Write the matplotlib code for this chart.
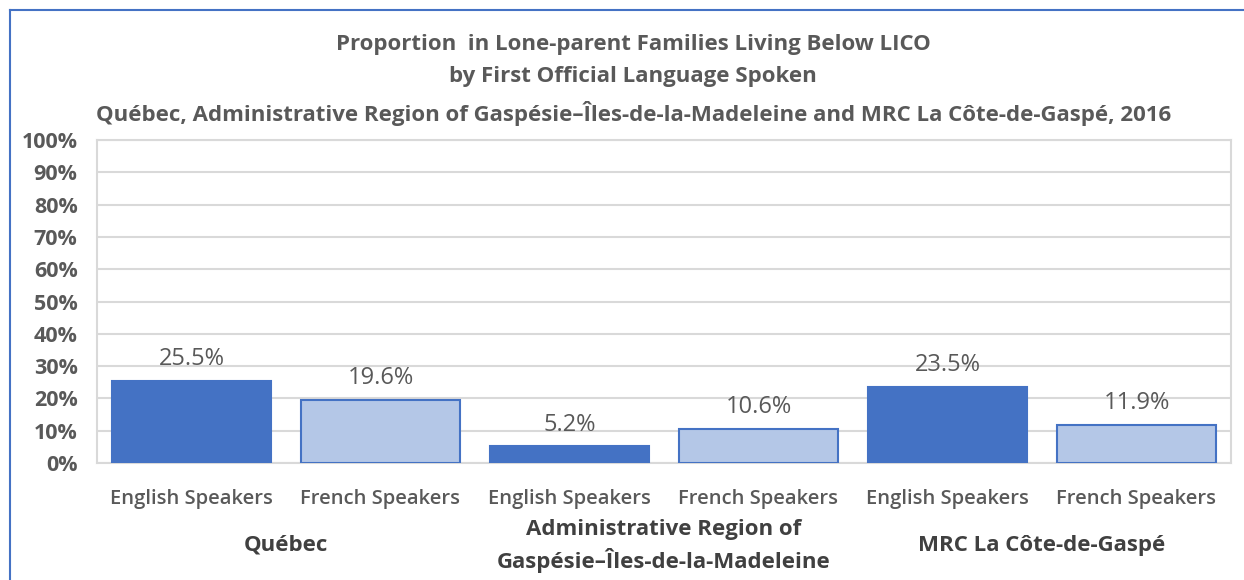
import matplotlib.pyplot as plt
from matplotlib.lines import Line2D

plt.rcParams['font.family'] = ['Open Sans', 'DejaVu Sans']

# data
categories = ['English Speakers', 'French Speakers'] * 3
regions = ['Québec', 'Administrative Region of\nGaspésie\u2013Îles-de-la-Madeleine', 'MRC La Côte-de-Gaspé']
values = [25.5, 19.6, 5.2, 10.6, 23.5, 11.9]
yticks = [0, 10, 20, 30, 40, 50, 60, 70, 80, 90, 100]
title = ('Proportion  in Lone-parent Families Living Below LICO\n'
         'by First Official Language Spoken\n'
         'Québec, Administrative Region of Gaspésie\u2013Îles-de-la-Madeleine and MRC La Côte-de-Gaspé, 2016')

dark = '#4472C4'
light = '#B4C7E7'
grey = '#595959'

fig = plt.figure(figsize=(12.44, 5.8), dpi=100)
ax = fig.add_axes([97/1244, 1 - 463/580, (1231-97)/1244, (463-140)/580])

x = list(range(len(values)))
colors = [dark if i % 2 == 0 else light for i in x]
bars = ax.bar(x, values, width=0.84, color=colors, edgecolor=dark, linewidth=1.5, zorder=3)
for b, v in zip(bars, values):
    ax.text(b.get_x() + b.get_width()/2, v + 3.0, f'{v:.1f}%', ha='center', va='bottom',
            fontsize=17, color=grey)

ax.set_xlim(-0.5, len(values) - 0.5)
ax.set_ylim(0, 100)
ax.set_yticks(yticks)
ax.set_yticklabels([f'{t}%' for t in yticks], fontsize=15.5, fontweight='bold', color=grey)
ax.grid(axis='y', color='#D9D9D9', linewidth=1.5, zorder=0)
ax.tick_params(axis='y', length=0, pad=14)
ax.set_xticks(x)
ax.set_xticklabels(categories, fontsize=14.5, color=grey, fontweight='semibold')
ax.tick_params(axis='x', length=0, pad=19)
for s in ax.spines.values():
    s.set_color('#D9D9D9')
    s.set_linewidth(1.5)

# group labels (y in axes fraction below the axis)
for g, name in enumerate(regions):
    if '\n' in name:
        ax.text(2*g + 0.5, -0.174, name, transform=ax.get_xaxis_transform(),
                ha='center', va='top', fontsize=16, fontweight='bold', color='#404040',
                linespacing=1.4)
    else:
        ax.text(2*g + 0.5, -0.254, name, transform=ax.get_xaxis_transform(),
                ha='center', va='center', fontsize=16, fontweight='bold', color='#404040')

fig.text(0.509, 1 - 80/580, title, ha='center', va='center', fontsize=16, fontweight='bold',
         color=grey, linespacing=1.68)

# outer frame (left and top edges)
fig.add_artist(Line2D([10/1244, 10/1244], [0, 1 - 10/580], transform=fig.transFigure, color=dark, linewidth=1.5))
fig.add_artist(Line2D([10/1244, 1], [1 - 10/580, 1 - 10/580], transform=fig.transFigure, color=dark, linewidth=1.5))

fig.savefig('out.png', dpi=100)
